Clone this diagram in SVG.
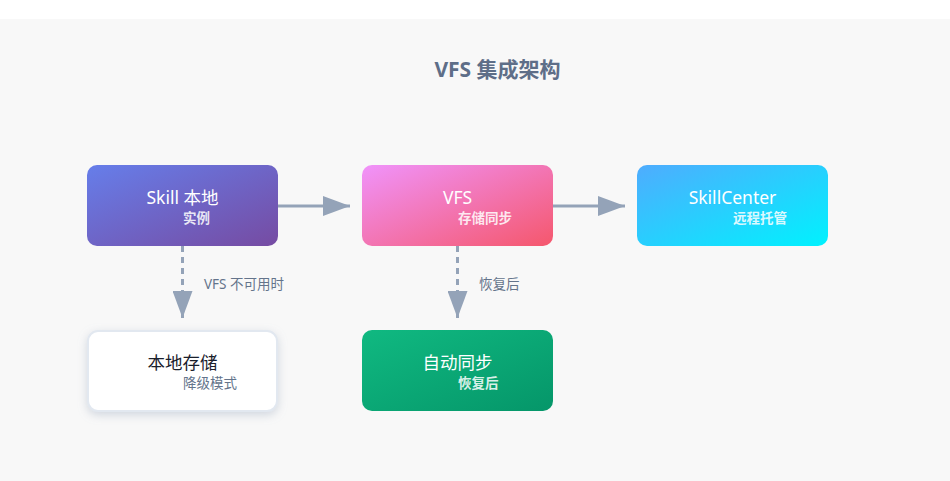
<svg xmlns="http://www.w3.org/2000/svg" width="950" height="481" viewBox="0 0 950 481">
<defs>
<linearGradient id="gBlue" x1="0" y1="0" x2="1" y2="1"><stop offset="0" stop-color="#667eea"/><stop offset="1" stop-color="#764ba2"/></linearGradient>
<linearGradient id="gPink" x1="0" y1="0" x2="1" y2="1"><stop offset="0" stop-color="#f093fb"/><stop offset="1" stop-color="#f5576c"/></linearGradient>
<linearGradient id="gCyan" x1="0" y1="0" x2="1" y2="1"><stop offset="0" stop-color="#4facfe"/><stop offset="1" stop-color="#00f2fe"/></linearGradient>
<linearGradient id="gGreen" x1="0" y1="0" x2="1" y2="1"><stop offset="0" stop-color="#10b981"/><stop offset="1" stop-color="#059669"/></linearGradient>
<filter id="shadow" x="-20%" y="-30%" width="140%" height="160%"><feDropShadow dx="0" dy="3" stdDeviation="5" flood-color="#94a3b8" flood-opacity="0.4"/></filter>
<marker id="arrow" markerUnits="userSpaceOnUse" markerWidth="28" markerHeight="20" refX="27" refY="10" orient="auto"><path d="M0,0 L27,10 L0,20 Z" fill="#94a3b8"/></marker>
</defs>
<style>
text{font-family:"Noto Sans","Noto Sans CJK SC",sans-serif}
.title{font-size:21px;font-weight:700;fill:#5e6e88}
.main{font-size:17.5px;fill:#ffffff}
.sub{font-size:13.5px;font-weight:600;fill:#ffffff;fill-opacity:0.85}
.edge{stroke:#94a3b8;stroke-width:3;fill:none}
.dash{stroke-dasharray:6 5}
.elabel{font-size:13.5px;fill:#64748b}
</style>
<rect x="0" y="0" width="950" height="481" fill="#ffffff"/>
<rect x="0" y="19" width="950" height="462" fill="#f8f8f8"/>
<text class="title" x="497.5" y="77" text-anchor="middle">VFS 集成架构</text>
<g id="connectors">
<line class="edge" x1="278" y1="206" x2="350" y2="206" marker-end="url(#arrow)"/>
<line class="edge" x1="553" y1="206" x2="625" y2="206" marker-end="url(#arrow)"/>
<line class="edge dash" x1="182.5" y1="246" x2="182.5" y2="318" marker-end="url(#arrow)"/>
<line class="edge dash" x1="457.5" y1="246" x2="457.5" y2="318" marker-end="url(#arrow)"/>
<text class="elabel" x="204" y="289">VFS 不可用时</text>
<text class="elabel" x="479" y="289">恢复后</text>
</g>
<g id="skill">
<rect x="87" y="165" width="191" height="81" rx="10" fill="url(#gBlue)"/>
<text class="main" x="182.5" y="204" text-anchor="middle">Skill 本地</text>
<text class="sub" x="183" y="223">实例</text>
</g>
<g id="vfs">
<rect x="362" y="165" width="191" height="81" rx="10" fill="url(#gPink)"/>
<text class="main" x="457.5" y="204" text-anchor="middle">VFS</text>
<text class="sub" x="458" y="223">存储同步</text>
</g>
<g id="skillcenter">
<rect x="637" y="165" width="191" height="81" rx="10" fill="url(#gCyan)"/>
<text class="main" x="732.5" y="204" text-anchor="middle">SkillCenter</text>
<text class="sub" x="733" y="223">远程托管</text>
</g>
<g id="localstore">
<rect x="88" y="331" width="189" height="80" rx="10" fill="#ffffff" stroke="#e2e8f0" stroke-width="2" filter="url(#shadow)"/>
<text class="main" x="182.5" y="369" text-anchor="middle" style="fill:#1a202c">本地存储</text>
<text class="sub" x="183" y="388" style="fill:#64748b;fill-opacity:1;font-weight:400">降级模式</text>
</g>
<g id="autosync">
<rect x="362" y="330" width="191" height="81" rx="10" fill="url(#gGreen)"/>
<text class="main" x="457.5" y="369" text-anchor="middle">自动同步</text>
<text class="sub" x="458" y="388">恢复后</text>
</g>
</svg>
